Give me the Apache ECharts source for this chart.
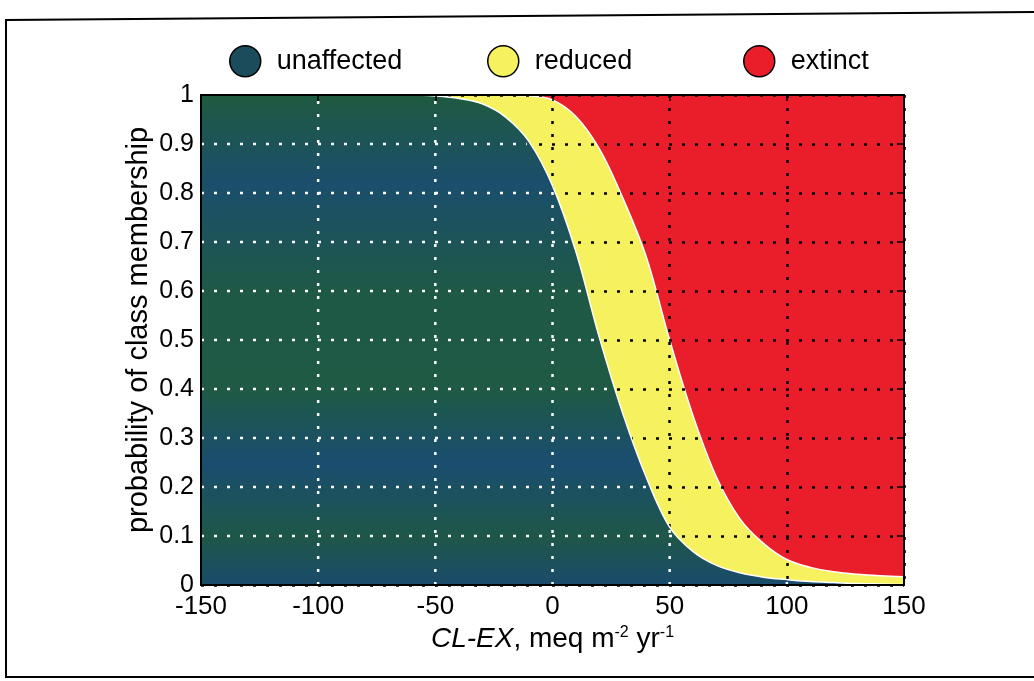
<!DOCTYPE html>
<html>
<head>
<meta charset="utf-8">
<script src="https://cdn.jsdelivr.net/npm/echarts@6/dist/echarts.min.js"></script>
<style>
html,body{margin:0;padding:0;background:#fff;}
#chart{width:1034px;height:681px;}
</style>
</head>
<body>
<div id="chart"></div>
<script>
// ---- data ----
const xValues = [-150,-140,-130,-120,-110,-100,-90,-80,-70,-60,-50,-40,-30,-20,-10,0,10,20,30,40,50,60,70,80,90,100,110,120,130,140,150];
const unaffected = [1,1,1,1,1,1,1,1,1,1,0.998,0.993,0.982,0.955,0.905,0.815,0.68,0.505,0.35,0.22,0.118,0.068,0.04,0.025,0.016,0.011,0.007,0.005,0.003,0.002,0.001];
const reduced    = [0,0,0,0,0,0,0,0,0,0,0.002,0.007,0.018,0.044,0.093,0.175,0.276,0.385,0.44,0.45,0.382,0.277,0.18,0.11,0.069,0.041,0.029,0.022,0.019,0.017,0.016];
const extinct    = [0,0,0,0,0,0,0,0,0,0,0,0,0,0.001,0.002,0.01,0.044,0.11,0.21,0.33,0.5,0.655,0.78,0.865,0.915,0.948,0.964,0.973,0.978,0.981,0.983];
const classNames = ['unaffected','reduced','extinct'];
const classColors = ['#1b4c5c','#f6f15e','#ea1d2b'];
const xTicks = [-150,-100,-50,0,50,100,150];
const yTicks = [0,0.1,0.2,0.3,0.4,0.5,0.6,0.7,0.8,0.9,1];

const FONT = 'Liberation Sans';
// cumulative probabilities (stacked by hand)
const cumU   = unaffected.slice();
const cumUR  = unaffected.map((u,i)=>u+reduced[i]);
const cumAll = unaffected.map((u,i)=>u+reduced[i]+extinct[i]);
const pairs = arr => xValues.map((x,i)=>[x,arr[i]]);

// white grid segments over the "unaffected" region (derived from the data)
function crossX(v){
  for(let i=0;i<xValues.length-1;i++){
    if(cumU[i]>=v && cumU[i+1]<v){
      return xValues[i]+(cumU[i]-v)/(cumU[i]-cumU[i+1])*(xValues[i+1]-xValues[i]);
    }
  }
  return xValues[xValues.length-1];
}
const whiteSegs = [];
yTicks.slice(1,-1).forEach(v=>{ whiteSegs.push([xTicks[0], v, crossX(v)-1.5, v]); });
xTicks.slice(1,-1).forEach(x=>{ const u = cumU[xValues.indexOf(x)]; whiteSegs.push([x, 0, x, u-0.005]); });

const chart = echarts.init(document.getElementById('chart'), null, {renderer:'canvas'});
const blueFill = new echarts.graphic.LinearGradient(0,0,0,1,[
  {offset:0,color:'#1f5a40'},{offset:0.18,color:'#1b4e6c'},{offset:0.4,color:'#1e5946'},
  {offset:0.6,color:'#1e5a44'},{offset:0.75,color:'#1a4d70'},{offset:0.9,color:'#1e5748'},{offset:1,color:'#1a4b6c'}]);

function legendFor(i, left){
  return {
    left:left, top:45, padding:0, itemWidth:31, itemHeight:31, itemGap:0, icon:'circle',
    textStyle:{fontFamily:FONT,fontSize:27,color:'#000',padding:[0,0,0,11]},
    data:[{name:classNames[i],itemStyle:{color:classColors[i],borderColor:'#000',borderWidth:1.5}}]
  };
}

const option = {
  animation:false,
  textStyle:{fontFamily:FONT},
  grid:{left:201,right:130,top:95,bottom:96},
  legend:[legendFor(0,229),legendFor(1,487),legendFor(2,743)],
  xAxis:[{
    type:'value', min:-150, max:150, interval:50, z:3,
    axisLine:{show:false,onZero:false}, axisTick:{show:false},
    axisLabel:{fontSize:26,color:'#000',margin:9,fontFamily:FONT},
    splitLine:{show:true,lineStyle:{color:'#000',width:2.5,type:[3,10]}},
    name:'{i|CL-EX}, meq m{sup|-2} yr{sup|-1}', nameLocation:'middle', nameGap:39,
    nameTextStyle:{fontSize:28,color:'#000',fontFamily:FONT,
      rich:{i:{fontStyle:'italic',fontSize:28,fontFamily:FONT,color:'#000'},
            sup:{fontSize:16,fontFamily:FONT,color:'#000',verticalAlign:'bottom',padding:[0,0,13,0]}}}
  },{
    type:'value', min:-150, max:150, interval:50, position:'top', z:10,
    axisLine:{show:true,onZero:false,lineStyle:{color:'#000',width:2}},
    axisTick:{show:true,inside:true,length:6,lineStyle:{color:'#000',width:1.5}},
    axisLabel:{show:false}, splitLine:{show:false}
  },{
    type:'value', min:-150, max:150, interval:50, position:'bottom', z:10,
    axisLine:{show:true,onZero:false,lineStyle:{color:'#000',width:2}},
    axisTick:{show:false}, axisLabel:{show:false}, splitLine:{show:false}
  }],
  yAxis:[{
    type:'value', min:0, max:1, interval:0.1, z:3,
    axisLine:{show:false,onZero:false}, axisTick:{show:false},
    axisLabel:{fontSize:25,color:'#000',margin:7,fontFamily:FONT},
    splitLine:{show:true,lineStyle:{color:'#000',width:2.5,type:[3,10]}},
    name:'probability of class membership', nameLocation:'middle', nameGap:48, nameMoveOverlap:false,
    nameTextStyle:{fontSize:29,color:'#000',fontFamily:FONT,padding:[0,0,0,20]}
  },{
    type:'value', min:0, max:1, interval:0.1, position:'right', z:10,
    axisLine:{show:true,onZero:false,lineStyle:{color:'#000',width:2}},
    axisTick:{show:true,inside:true,length:7,lineStyle:{color:'#000',width:1.5}},
    axisLabel:{show:false}, splitLine:{show:false}
  },{
    type:'value', min:0, max:1, interval:0.1, position:'left', z:10,
    axisLine:{show:true,onZero:false,lineStyle:{color:'#000',width:2}},
    axisTick:{show:false}, axisLabel:{show:false}, splitLine:{show:false}
  }],
  series:[
    {name:classNames[2], type:'line', data:pairs(cumAll), smooth:0.35, showSymbol:false, z:1,
     itemStyle:{color:classColors[2]}, lineStyle:{width:0}, areaStyle:{color:'#ea1d2b',opacity:1,origin:'start'}},
    {name:classNames[1], type:'line', data:pairs(cumUR), smooth:0.35, showSymbol:false, z:2,
     itemStyle:{color:classColors[1]}, lineStyle:{color:'#fff',width:1.5}, areaStyle:{color:'#f6f15e',opacity:1,origin:'start'}},
    {name:classNames[0], type:'line', data:pairs(cumU), smooth:0.35, showSymbol:false, z:4,
     itemStyle:{color:classColors[0]}, lineStyle:{color:'#fff',width:1.5}, areaStyle:{color:blueFill,opacity:1,origin:'start'}},
    {type:'custom', z:5, silent:true, data:whiteSegs, encode:{x:[0,2],y:[1,3]},
     renderItem:function(params,api){
       const p1 = api.coord([api.value(0),api.value(1)]);
       const p2 = api.coord([api.value(2),api.value(3)]);
       return {type:'line', shape:{x1:p1[0],y1:p1[1],x2:p2[0],y2:p2[1]},
               style:{stroke:'#fff',lineWidth:2.5,lineDash:[3,10]}};
     }}
  ],
  graphic:[{
    type:'polyline', silent:true, z:100,
    shape:{points:[[1034,12],[6,20],[6,677],[1034,677]]},
    style:{stroke:'#000',lineWidth:2,fill:null}
  }]
};
chart.setOption(option);
</script>
</body>
</html>
